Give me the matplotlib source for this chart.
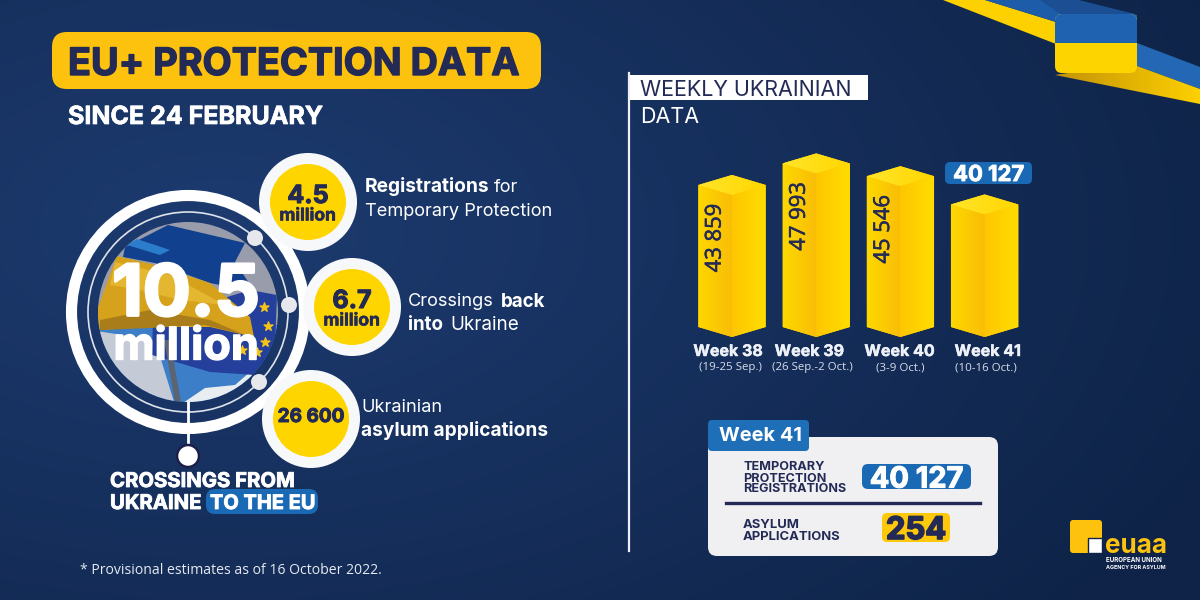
"""EU+ protection data infographic, weekly Ukrainian registrations."""

import matplotlib

matplotlib.use("Agg")
import matplotlib.pyplot as plt  # noqa: E402
import numpy as np  # noqa: E402
from matplotlib.patches import Circle, FancyBboxPatch, Polygon, Rectangle  # noqa: E402
import matplotlib.patheffects as pe  # noqa: E402

weeks = ["Week 38", "Week 39", "Week 40", "Week 41"]
week_dates = ["(19-25 Sep.)", "(26 Sep.-2 Oct.)", "(3-9 Oct.)", "(10-16 Oct.)"]
weekly_values = [43859, 47993, 45546, 40127]
label_shift = [-4, -7, -1, 3]
sub_shift = [-2, -4, 0, 1]

crossings_total = "10.5"
stat_registrations = "4.5"
stat_back = "6.7"
stat_asylum = "26 600"
week41_asylum = 254

NAVY = "#232a55"
BLUE = "#1a69b4"
YELLOW = "#ffd500"
HEAD = ["Inter", "DejaVu Sans"]
BODY = ["Open Sans", "DejaVu Sans"]


def fmt(v):
    return f"{v:,}".replace(",", " ")


def txt(ax, x, y, s, px, color="white", weight="normal", ha="left", family=BODY, stroke=0, **kw):
    t = ax.text(x, y, s, fontsize=px * 0.72, color=color, fontweight=weight, ha=ha,
                va="center_baseline", family=family, **kw)
    if stroke:
        t.set_path_effects([pe.withStroke(linewidth=stroke, foreground=color)])
    return t


def pill(ax, x0, y0, x1, y1, r, color, zorder=3):
    p = FancyBboxPatch((x0 + r, y0 + r), x1 - x0 - 2 * r, y1 - y0 - 2 * r,
                       boxstyle=f"round,pad={r},rounding_size={r}", fc=color, ec="none", zorder=zorder)
    ax.add_patch(p)
    return p


def grad_fill(ax, pts, c0, c1, zorder=2, horizontal=True):
    # gradient image clipped to a polygon
    poly = Polygon(pts, closed=True, fc="none", ec="none", transform=ax.transData)
    ax.add_patch(poly)
    xs = [p[0] for p in pts]
    ys = [p[1] for p in pts]
    a = np.array(matplotlib.colors.to_rgb(c0))
    b = np.array(matplotlib.colors.to_rgb(c1))
    t = np.linspace(0, 1, 64)
    g = a[None, :] * (1 - t[:, None]) + b[None, :] * t[:, None]
    g = g[None, :, :] if horizontal else g[:, None, :]
    im = ax.imshow(g, extent=(min(xs), max(xs), max(ys), min(ys)), aspect="auto",
                   zorder=zorder, interpolation="bilinear")
    im.set_clip_path(poly)


fig = plt.figure(figsize=(12, 6), dpi=100)
ax = fig.add_axes([0, 0, 1, 1])
ax.axis("off")

# background
yy, xx = np.mgrid[0:600:120j, 0:1200:240j]
d = np.clip(np.hypot((xx - 220) / 1100, (yy - 230) / 620), 0, 1)
c0, c1 = np.array([0x1d, 0x3b, 0x70]) / 255, np.array([0x0e, 0x23, 0x47]) / 255
ax.imshow(c0[None, None, :] * (1 - d[..., None]) + c1[None, None, :] * d[..., None],
          extent=(0, 1200, 600, 0), aspect="auto", zorder=0, interpolation="bilinear")

# ribbon top right
ax.add_patch(Polygon([(943, 0), (985, 0), (1056, 22), (1056, 44)], fc="#fdd000", ec="none", zorder=1))
ax.add_patch(Polygon([(985, 0), (1078, 0), (1137, 15), (1137, 30), (1056, 30), (1056, 22)], fc="#1c5ca8", ec="none", zorder=1))
ax.add_patch(Polygon([(1137, 43), (1200, 67), (1200, 89), (1137, 66)], fc="#2467b4", ec="none", zorder=1))
grad_fill(ax, [(1055, 75), (1100, 68), (1137, 66), (1200, 89), (1200, 104)], "#c49208", "#fdd000", zorder=1)
ax.add_patch(Polygon([(1040, 0), (1078, 0), (1135, 14), (1060, 14)], fc="#1b4e93", ec="none", zorder=1))
panel = pill(ax, 1055, 14, 1137, 73, 7, "#fdd400", zorder=2)
top_band = Rectangle((1055, 14), 82, 29, fc="#1f62b0", ec="none", zorder=2)
ax.add_patch(top_band)
top_band.set_clip_path(panel)

# heading
pill(ax, 52, 32, 541, 89, 15, "#fdc20e")
txt(ax, 68, 61, "EU+ PROTECTION DATA", 37.8, NAVY, "bold", family=HEAD, zorder=4, stroke=1)
txt(ax, 68, 115, "SINCE 24 FEBRUARY", 25, "white", "bold", family=HEAD, zorder=4, stroke=0.5)

# main circle
cx, cy = 188, 312
ax.add_patch(Circle((cx, cy), 116.5, fc="none", ec="white", lw=8, zorder=2))
ax.add_patch(Circle((cx, cy), 100, fc="none", ec="#dfe3ea", lw=1.2, zorder=2))
ax.plot([cx, cx], [402, 446], color="white", lw=2, zorder=2)
ax.add_patch(Circle((cx, 456), 11, fc="white", ec="#1a1f4a", lw=1.8, zorder=3))

# flag photo, rough shapes clipped to the circle
clip = Circle((cx, cy), 90, transform=ax.transData)
photo = [
    ([(90, 210), (290, 210), (290, 330), (90, 350)], "#989cab"),
    ([(90, 325), (290, 325), (290, 410), (90, 410)], "#3d7ec9"),
    ([(90, 330), (155, 340), (175, 405), (130, 410), (90, 400)], "#c5cbd6"),
    ([(180, 405), (205, 388), (235, 385), (250, 372), (265, 400), (180, 420)], "#e8edf2"),
    ([(153, 320), (250, 290), (277, 295), (275, 345), (255, 375), (210, 372), (152, 355)], "#243f9c"),
    ([(125, 247), (168, 225), (245, 243), (235, 262), (255, 292), (210, 283), (155, 263), (123, 257)], "#11408e"),
    ([(127, 245), (137, 239), (170, 250), (160, 255)], "#2c7ccc"),
    ([(97, 310), (117, 256), (155, 265), (210, 283), (250, 317), (254, 337), (210, 327), (150, 327), (98, 330)], "#d6a21c"),
    ([(115, 262), (170, 275), (225, 305), (180, 300), (140, 290), (110, 285)], "#e5b62f"),
    ([(100, 320), (150, 310), (210, 320), (245, 335), (205, 325), (150, 328), (100, 330)], "#a97d1a"),
]
for pts, col in photo:
    p = Polygon(pts, fc=col, ec="none", zorder=2)
    ax.add_patch(p)
    p.set_clip_path(clip)
pole = Polygon([(164, 340), (170, 340), (181, 402), (175, 402)], fc="#5b6472", ec="none", zorder=2)
ax.add_patch(pole)
pole.set_clip_path(clip)
ax.scatter([264, 268, 265, 257, 242], [307, 326, 342, 352, 350], marker="*", s=45, color="#f5c518", zorder=2)

for x, y in [(255, 238), (289, 305), (259, 382)]:
    ax.add_patch(Circle((x, y), 8, fc="#e6e8ec", ec="none", zorder=3))

txt(ax, 186, 290, crossings_total, 71, "white", "bold", ha="center", family=HEAD, zorder=5, stroke=2)
txt(ax, 186, 343, "million", 45, "white", "bold", ha="center", family=HEAD, zorder=5, stroke=1)

# side stat circles
for x, y in [(308, 202), (352, 307), (311, 419)]:
    ax.add_patch(Circle((x, y), 49, fc="#f7f8fa", ec="none", zorder=3))
    ax.add_patch(Circle((x, y), 38, fc=YELLOW, ec="none", zorder=4))
txt(ax, 308, 194, stat_registrations, 25, NAVY, "bold", ha="center", family=HEAD, zorder=5, stroke=0.8)
txt(ax, 308, 214, "million", 17.5, NAVY, "bold", ha="center", family=HEAD, zorder=5, stroke=0.4)
txt(ax, 352, 299, stat_back, 25, NAVY, "bold", ha="center", family=HEAD, zorder=5, stroke=0.8)
txt(ax, 352, 319, "million", 17.5, NAVY, "bold", ha="center", family=HEAD, zorder=5, stroke=0.4)
txt(ax, 311, 415, stat_asylum, 19, NAVY, "bold", ha="center", family=HEAD, zorder=5, stroke=0.7)

txt(ax, 365, 185, "Registrations", 19.2, "white", "bold", family=HEAD)
txt(ax, 494, 185, "for", 18.2, "white", family=HEAD)
txt(ax, 365, 209, "Temporary Protection", 18.2, "white", family=HEAD)
txt(ax, 408, 300, "Crossings", 18.2, "white", family=HEAD)
txt(ax, 501, 300, "back", 18.8, "white", "bold", family=HEAD)
txt(ax, 408, 323, "into", 18.8, "white", "bold", family=HEAD)
txt(ax, 450, 323, "Ukraine", 18.8, "white", family=HEAD)
txt(ax, 361, 405, "Ukrainian", 18.2, "white", family=HEAD)
txt(ax, 361, 429, "asylum applications", 19.1, "white", "bold", family=HEAD)

txt(ax, 110, 480, "CROSSINGS FROM", 20.3, "white", "bold", family=HEAD, stroke=0.6)
txt(ax, 110, 502, "UKRAINE", 20.3, "white", "bold", family=HEAD, stroke=0.6)
pill(ax, 206, 489, 318, 514, 9, BLUE)
txt(ax, 210, 502, "TO THE EU", 20, "white", "bold", family=HEAD, zorder=4, stroke=0.6)
txt(ax, 80, 569, "* Provisional estimates as of 16 October 2022.", 14, "#e6e9f0")

# right header
ax.plot([629, 629], [73, 551], color="#eef0f4", lw=1.6, zorder=3)
ax.add_patch(Rectangle((630, 75), 238, 25, fc="white", ec="none", zorder=2))
txt(ax, 640, 88, "WEEKLY UKRAINIAN", 21.5, NAVY, family=HEAD, zorder=4)
txt(ax, 640, 115, "DATA", 21.5, "white", family=HEAD)

# bars, in their own axes: y is the weekly count, x the week index
K = 0.005216  # px per registration
V0 = 16630  # value sitting on the front-left bar foot
X0, STEP = 732, 84.2
bx = fig.add_axes([680 / 1200, 1 - 350 / 600, 360 / 1200, 220 / 600], zorder=5)
bx.axis("off")
bx.patch.set_alpha(0)
dep = 10 / K
hw = 0.4
for i, v in enumerate(weekly_values):
    bx.add_patch(Polygon([(i - hw, v), (i, v + dep), (i + hw, v), (i + hw, V0), (i, V0 - dep), (i - hw, V0)],
                         fc="#fcc800", ec="none", zorder=1))
    grad_fill(bx, [(i - hw, v), (i, v - dep), (i, V0 - dep), (i - hw, V0)], "#fdd800", "#f9bd06")
    grad_fill(bx, [(i, v - dep), (i + hw, v), (i + hw, V0), (i, V0 - dep)], "#fec600", "#ffdd00")
    grad_fill(bx, [(i - hw, v), (i, v + dep), (i + hw, v), (i, v - dep)], "#ffe52a", "#ffd600", zorder=3)
for i, v in enumerate(weekly_values[:-1]):
    t = bx.text(i - 0.2, v - 53 / K, fmt(v), rotation=90, ha="center", va="center",
                fontsize=22 * 0.72, color=NAVY, family=BODY, zorder=4)
    t.set_path_effects([pe.withStroke(linewidth=0.4, foreground=NAVY)])
bx.set_xlim((680 - X0) / STEP, (1040 - X0) / STEP)
bx.set_ylim(V0 - 23 / K, V0 + 197 / K)

for i, (w, dt) in enumerate(zip(weeks, week_dates)):
    x = X0 + STEP * i
    txt(ax, x + label_shift[i], 350, w, 16, "#eef1f8", "bold", ha="center", family=HEAD, zorder=4, stroke=0.3)
    txt(ax, x + sub_shift[i], 366, dt, 11.5, "#d8dcea", ha="center", zorder=4)

# callout above the last bar
pill(ax, 945, 162, 1032, 184, 5, BLUE)
txt(ax, 988.5, 173, fmt(weekly_values[-1]), 22, "white", "bold", ha="center", family=HEAD, zorder=4, stroke=0.6)

# week 41 card
pill(ax, 708, 437, 998, 556, 9, "#f0f0f2")
pill(ax, 708, 420, 809, 451, 4, "#1f6eb8", zorder=4)
txt(ax, 719, 434, weeks[-1], 20, "white", "bold", family=HEAD, zorder=5)
for y, s in zip([466, 477, 488], ["TEMPORARY", "PROTECTION", "REGISTRATIONS"]):
    txt(ax, 743, y, s, 12.6, NAVY, "bold", family=HEAD, zorder=5)
for y, s in zip([523, 535], ["ASYLUM", "APPLICATIONS"]):
    txt(ax, 743, y, s, 13, NAVY, "bold", family=HEAD, zorder=5)
pill(ax, 862, 464, 971, 489, 6, BLUE, zorder=4)
txt(ax, 916.5, 477, fmt(weekly_values[-1]), 29, "white", "bold", ha="center", family=HEAD, zorder=5, stroke=0.8)
ax.plot([726, 980], [503, 503], color=NAVY, lw=2.4, zorder=4)
pill(ax, 882, 513, 950, 542, 5, "#fdc90a", zorder=4)
txt(ax, 916, 528, str(week41_asylum), 31, NAVY, "bold", ha="center", family=HEAD, zorder=5, stroke=1.2)

# logo
pill(ax, 1070, 520, 1102, 553, 3, "#fdc20e")
ax.add_patch(Rectangle((1088, 538), 14, 15, fc="white", ec="#0f2448", lw=1, zorder=4))
txt(ax, 1105, 543, "euaa", 26, "#fdc20e", "bold", family=HEAD, zorder=4)
txt(ax, 1106, 559.5, "EUROPEAN UNION", 6.2, "white", "bold", family=HEAD, zorder=4)
txt(ax, 1106, 567, "AGENCY FOR ASYLUM", 5.3, "white", "bold", family=HEAD, zorder=4)

ax.set_xlim(0, 1200)
ax.set_ylim(600, 0)
fig.savefig("out.png", dpi=100)
